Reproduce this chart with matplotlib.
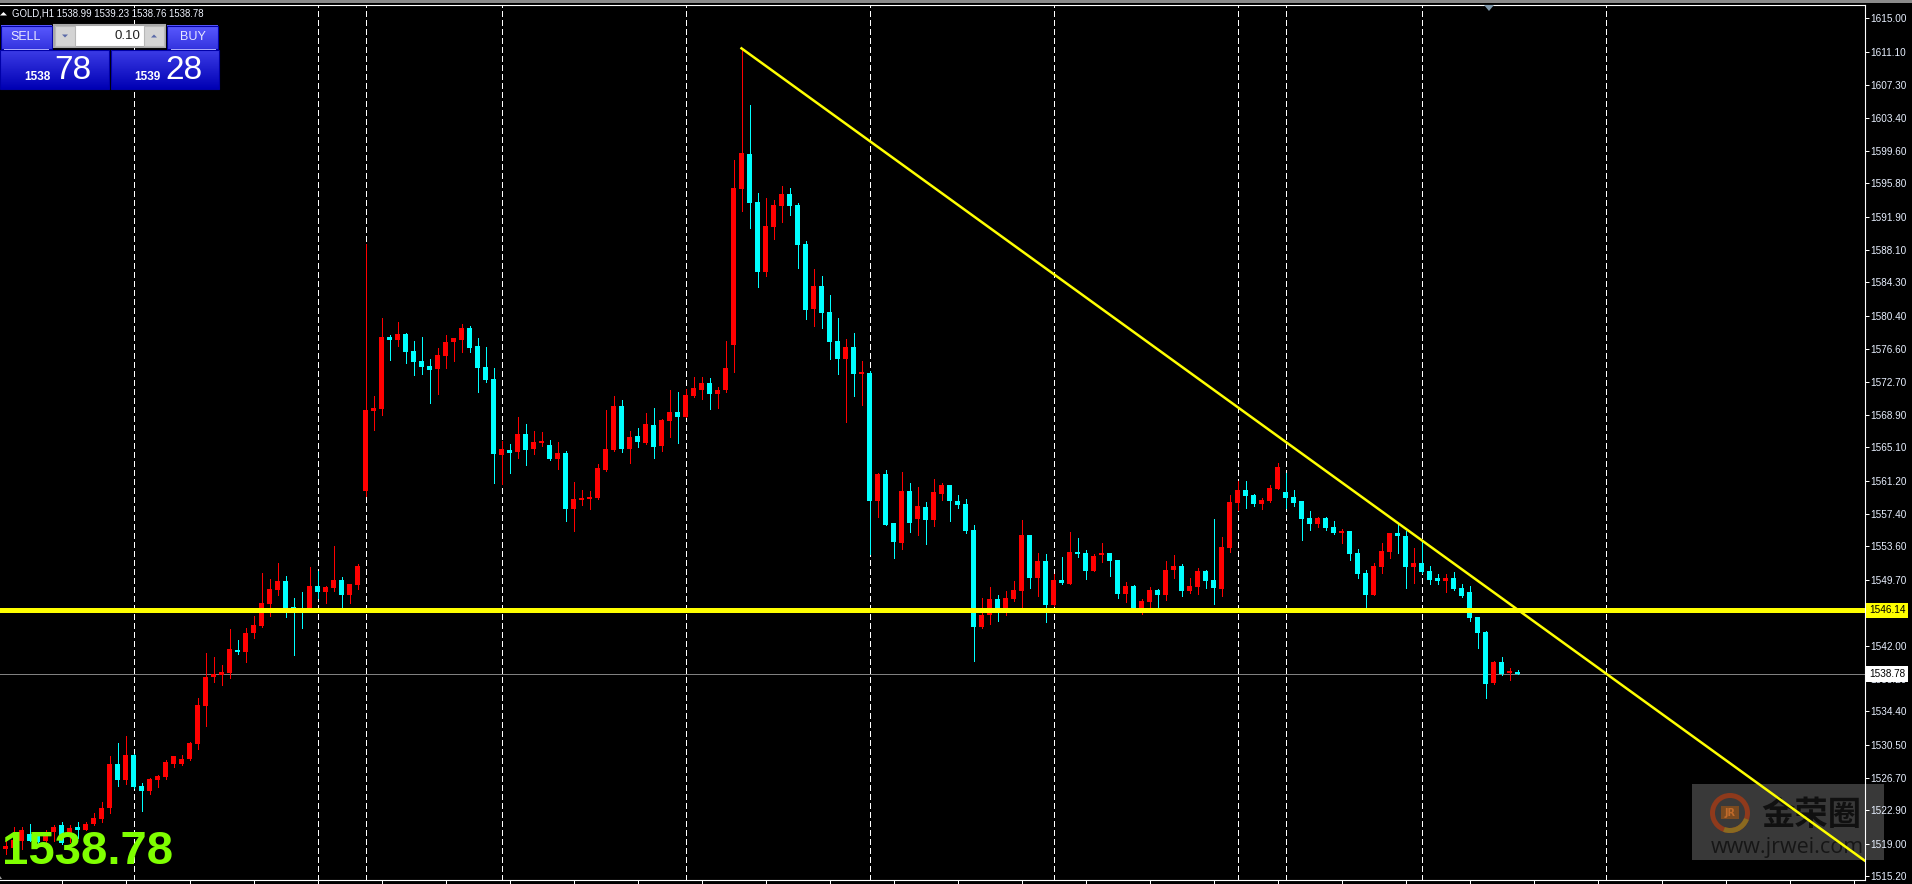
import numpy as np
import matplotlib
matplotlib.use('Agg')
import matplotlib.pyplot as plt
from matplotlib.patches import Rectangle, Polygon, Wedge
from matplotlib.colors import LinearSegmentedColormap

W, H = 1912, 884
UI_FONT = 'Liberation Sans'

opens = [
    1518.38,1518.53,1519.38,1520.16,1520.16,1519.38,1520.32,1521.13,1519.77,1520.90,
    1520.63,1521.25,1521.83,1523.11,1528.23,1526.37,1529.28,1525.67,1525.20,1526.37,
    1526.72,1528.34,1528.23,1528.81,1530.56,1534.98,1538.35,1538.59,1538.82,1541.49,
    1541.26,1543.47,1544.29,1546.85,1548.48,1549.52,1546.50,1546.38,1546.27,1548.94,
    1548.24,1548.71,1549.64,1547.89,1549.06,1560.00,1569.31,1569.54,1577.92,1577.57,
    1578.27,1576.29,1575.13,1574.54,1574.19,1575.71,1577.34,1577.57,1578.97,1576.87,
    1574.43,1573.03,1564.19,1564.77,1564.54,1566.63,1564.88,1565.58,1565.35,1563.72,
    1564.42,1557.90,1558.95,1559.07,1559.18,1562.44,1564.77,1569.89,1564.88,1566.40,
    1565.58,1567.68,1565.23,1568.14,1569.19,1568.61,1571.05,1571.75,1572.57,1571.29,
    1571.75,1576.98,1595.14,1599.21,1593.62,1585.48,1590.72,1593.16,1594.56,1593.28,
    1588.74,1581.17,1583.85,1580.82,1577.45,1575.35,1576.75,1573.61,1573.72,1558.84,
    1561.98,1556.28,1553.95,1560.00,1556.74,1558.14,1556.63,1559.65,1560.70,1558.84,
    1558.49,1555.46,1544.18,1545.57,1547.43,1546.39,1547.43,1548.36,1554.88,1549.88,
    1551.86,1546.74,1549.64,1549.18,1552.90,1552.79,1550.69,1552.55,1552.79,1551.97,
    1548.02,1548.95,1546.39,1547.08,1548.48,1547.90,1550.81,1551.27,1548.36,1548.83,
    1550.69,1549.64,1548.60,1553.37,1558.60,1560.12,1559.53,1558.48,1558.83,1560.23,
    1559.88,1559.30,1558.83,1556.85,1556.15,1556.85,1555.81,1555.11,1555.34,1552.78,
    1550.45,1547.89,1551.15,1552.90,1555.11,1554.76,1551.15,1551.62,1550.69,1549.87,
    1549.52,1549.87,1548.71,1548.24,1545.33,1543.59,1537.65,1540.10,1538.82,1538.99,
]
highs = [
    1519.38,1521.01,1521.01,1521.25,1520.16,1520.55,1521.13,1521.59,1521.13,1521.48,
    1521.48,1522.53,1523.81,1529.16,1530.67,1531.49,1529.39,1526.13,1526.60,1527.06,
    1528.69,1529.16,1529.28,1530.79,1535.91,1541.15,1540.68,1539.75,1543.94,1542.66,
    1544.05,1545.45,1550.45,1549.76,1551.62,1550.11,1547.55,1548.24,1551.15,1550.69,
    1548.94,1553.60,1549.99,1549.17,1551.50,1588.74,1571.05,1580.13,1578.15,1579.66,
    1578.38,1577.45,1577.92,1575.36,1576.64,1578.15,1577.80,1579.43,1579.20,1577.80,
    1576.75,1574.31,1565.82,1565.47,1568.61,1567.79,1566.98,1566.86,1565.93,1565.70,
    1564.65,1561.04,1560.11,1560.00,1563.14,1569.42,1571.05,1570.59,1566.98,1567.33,
    1569.07,1569.66,1568.38,1571.75,1571.52,1571.87,1573.26,1573.26,1573.15,1572.10,
    1577.45,1598.51,1611.51,1604.91,1594.67,1594.09,1593.86,1595.49,1595.25,1593.51,
    1589.09,1585.83,1585.01,1582.80,1580.13,1577.68,1578.38,1575.12,1574.00,1562.10,
    1562.45,1556.28,1562.21,1560.93,1560.47,1558.72,1561.40,1560.93,1560.70,1559.54,
    1559.07,1556.04,1547.55,1548.83,1547.90,1548.36,1549.53,1556.63,1554.88,1552.79,
    1552.67,1550.34,1552.32,1555.23,1554.53,1553.14,1552.67,1553.95,1552.79,1551.97,
    1549.41,1549.06,1547.43,1548.83,1548.60,1551.86,1552.55,1551.51,1549.88,1551.04,
    1550.81,1556.74,1554.65,1559.54,1561.17,1561.17,1559.65,1559.18,1560.69,1563.25,
    1562.09,1560.11,1558.83,1557.67,1556.97,1556.97,1556.50,1555.57,1555.34,1553.25,
    1550.80,1551.62,1553.94,1555.11,1556.27,1555.34,1553.36,1554.29,1551.27,1550.34,
    1550.34,1550.57,1549.17,1548.94,1545.33,1543.70,1540.21,1540.68,1539.40,1539.23,
]
lows = [
    1517.83,1517.44,1518.38,1519.38,1519.00,1519.19,1519.31,1519.00,1519.19,1519.62,
    1520.55,1521.13,1521.59,1522.64,1525.67,1525.90,1525.44,1522.76,1524.85,1525.55,
    1526.48,1527.88,1528.11,1528.69,1529.97,1532.65,1537.77,1537.42,1538.24,1541.03,
    1540.10,1542.89,1544.17,1545.45,1547.89,1545.33,1540.91,1544.05,1546.15,1547.55,
    1546.96,1548.36,1546.15,1546.96,1548.59,1559.42,1567.10,1568.84,1575.24,1576.87,
    1574.89,1573.50,1573.61,1570.24,1571.29,1574.31,1575.13,1576.17,1576.17,1571.52,
    1572.68,1560.93,1560.81,1562.09,1563.84,1563.02,1564.30,1565.23,1563.60,1562.56,
    1556.51,1555.34,1558.37,1557.90,1559.07,1562.32,1564.65,1564.54,1563.26,1565.12,
    1565.47,1563.84,1564.65,1566.28,1565.58,1568.61,1570.94,1570.70,1569.54,1569.66,
    1571.52,1573.84,1592.58,1590.60,1583.73,1585.01,1589.32,1591.30,1592.11,1585.94,
    1580.01,1579.19,1578.96,1575.35,1573.61,1568.02,1571.05,1570.00,1552.67,1556.98,
    1556.04,1552.20,1553.25,1555.23,1554.88,1553.83,1555.93,1558.95,1556.51,1558.02,
    1555.11,1540.22,1544.06,1544.52,1544.87,1545.57,1547.20,1546.50,1548.71,1547.78,
    1544.76,1546.62,1549.18,1549.18,1552.32,1549.76,1550.69,1551.74,1550.11,1547.55,
    1547.08,1546.27,1545.69,1546.50,1546.15,1547.32,1549.88,1547.78,1548.13,1548.02,
    1548.71,1546.85,1547.78,1552.90,1557.79,1558.02,1558.25,1557.90,1558.72,1560.23,
    1558.02,1558.25,1554.29,1555.46,1555.81,1555.46,1554.99,1553.94,1551.97,1549.87,
    1546.50,1547.89,1550.45,1552.20,1552.78,1548.71,1549.29,1550.45,1549.17,1549.17,
    1548.24,1548.47,1547.66,1544.87,1541.72,1535.91,1537.54,1538.58,1538.00,1538.76,
]
closes = [
    1518.69,1519.46,1520.63,1519.38,1519.19,1520.32,1521.01,1519.11,1520.86,1520.66,
    1521.36,1522.06,1523.22,1528.23,1526.37,1529.28,1525.55,1525.20,1526.48,1526.83,
    1528.46,1529.16,1528.81,1530.67,1535.09,1538.35,1538.74,1538.93,1541.61,1541.26,
    1543.47,1544.40,1546.96,1548.59,1549.52,1546.38,1546.27,1546.27,1548.94,1548.24,
    1548.83,1549.64,1547.89,1549.17,1551.27,1569.42,1569.66,1577.92,1577.57,1578.27,
    1576.17,1575.01,1574.43,1574.08,1575.82,1577.34,1577.80,1578.97,1576.64,1574.31,
    1572.91,1564.30,1564.88,1564.42,1566.63,1564.77,1565.70,1565.82,1563.72,1564.42,
    1557.90,1559.07,1559.18,1559.30,1562.67,1564.88,1569.89,1564.88,1566.28,1565.70,
    1567.79,1565.12,1568.26,1569.19,1568.61,1571.17,1571.98,1572.57,1571.29,1571.75,
    1574.31,1595.25,1599.33,1593.51,1585.48,1590.83,1593.28,1594.56,1593.16,1588.62,
    1581.06,1583.85,1580.71,1577.33,1575.35,1576.75,1573.61,1573.84,1558.84,1561.98,
    1556.04,1554.07,1560.00,1556.28,1558.26,1556.63,1559.89,1560.70,1558.84,1558.37,
    1555.35,1544.18,1545.57,1547.43,1546.39,1547.55,1548.48,1554.88,1549.88,1551.86,
    1546.74,1549.64,1549.30,1552.90,1552.67,1550.69,1552.44,1552.79,1551.86,1548.02,
    1548.95,1546.39,1547.20,1548.48,1547.90,1550.81,1551.27,1548.36,1548.95,1550.69,
    1549.53,1548.71,1553.48,1558.72,1560.12,1559.42,1558.48,1558.95,1560.34,1562.79,
    1559.18,1558.60,1556.74,1556.15,1556.85,1555.69,1555.11,1555.34,1552.66,1550.34,
    1547.89,1551.27,1553.01,1555.11,1554.76,1551.15,1551.62,1550.57,1549.64,1549.52,
    1549.87,1548.59,1547.78,1545.22,1543.47,1537.54,1540.10,1538.70,1539.05,1538.78,
]

price_ticks = [1615.00,1611.10,1607.30,1603.40,1599.60,1595.80,1591.90,1588.10,1584.30,
               1580.40,1576.60,1572.70,1568.90,1565.10,1561.20,1557.40,1553.60,1549.70,
               1545.90,1542.00,1538.20,1534.40,1530.50,1526.70,1522.90,1519.00,1515.20]
grid_bars = [16, 39, 45, 62, 85, 108, 131, 154, 160, 177, 200]
time_ticks = list(range(7, 232, 8))

support = 1546.14
last_price = 1538.78
trend_x = [92, 232.375]
trend_y = [1611.51, 1517.06]

def px_axes(zorder):
    # axes in image pixels, y going down
    a = fig.add_axes([0, 0, 1, 1], zorder=zorder)
    a.set_xlim(0, W)
    a.set_ylim(H, 0)
    a.axis('off')
    a.patch.set_alpha(0)
    return a

def gradient_box(a, x0, y0, x1, y1, top, bottom, edge='#0000a8'):
    cmap = LinearSegmentedColormap.from_list('g', [top, bottom])
    a.imshow(np.linspace(0, 1, 64).reshape(-1, 1), cmap=cmap, aspect='auto',
             extent=[x0, x1, y1, y0], interpolation='bilinear')
    a.add_patch(Rectangle((x0, y0), x1 - x0, y1 - y0, fill=False, ec=edge, lw=0.8))

fig = plt.figure(figsize=(W / 100, H / 100), dpi=100, facecolor='black')

# watermark goes under the chart
wm = px_axes(0)
wm.add_patch(Rectangle((1692, 784), 192, 76, fc='#393939', ec='none'))
wm.add_patch(Wedge((1730, 813), 20, 0, 360, width=5, fc='#8f3a1c', ec='none'))
wm.add_patch(Wedge((1730, 813), 20, 20, 110, width=5, fc='#8a6a20', ec='none'))
wm.add_patch(Rectangle((1721, 806), 18, 13, fc='#7a4a20', ec='none'))
wm.text(1730, 812.5, 'JR', color='#c06a2a', fontsize=7, fontweight='bold', ha='center', va='center')
wm.text(1811, 815, '金荣圈', color='#101010', fontsize=24, fontweight='bold', ha='center', va='center',
        family=['Noto Sans CJK SC', 'DejaVu Sans'])
wm.text(1787, 848, 'www.jrwei.com', color='#161616', fontsize=15.5, ha='center', va='center',
        family='Open Sans')

ax = fig.add_axes([0, (H - 879.5) / H, 1864.5 / W, (879.5 - 5) / H], zorder=1)
ax.set_facecolor('none')
ax.set_xlim(-0.6875, 232.375)
ax.set_ylim(1514.85, 1616.55)

x = np.arange(len(opens))
o = np.array(opens)
h = np.array(highs)
l = np.array(lows)
c = np.array(closes)
colors = np.where(c >= o, '#ff0000', '#00ffff')

ax.vlines(grid_bars, 1514.85, 1616.55, colors='white', lw=0.8,
          linestyles=(0, (5, 3)), zorder=1, antialiased=False)
ax.axhline(last_price, color='#808080', lw=0.72, zorder=1.5)

ax.vlines(x, l, h, colors=colors, lw=0.72, zorder=2, antialiased=False)
ax.bar(x, np.maximum(np.abs(c - o), 0.1), bottom=np.minimum(o, c), width=0.7,
       color=colors, linewidth=0, zorder=3, antialiased=False)

ax.axhline(support, color='#ffff00', lw=2.3, zorder=4, antialiased=False)
ax.plot(trend_x, trend_y, color='#ffff00', lw=1.8, zorder=4)

for side in ['top', 'right', 'bottom']:
    ax.spines[side].set_color('white')
    ax.spines[side].set_linewidth(0.8)
ax.spines['left'].set_visible(False)
ax.yaxis.tick_right()
ax.set_yticks(price_ticks)
ax.set_yticklabels(['%.2f' % p for p in price_ticks], family=UI_FONT, fontsize=7.2)
ax.tick_params(axis='y', colors='white', length=3, width=0.72, pad=1.5, labelcolor='#e8f0ff')
ax.set_xticks(time_ticks)
ax.set_xticklabels([])
ax.tick_params(axis='x', colors='white', length=3.5, width=0.72)

# price tags on the scale
ytrans = ax.get_yaxis_transform()
ax.text(1.0024, support, '%.2f' % support, transform=ytrans, color='black', fontsize=7.2, family=UI_FONT,
        va='center', ha='left', zorder=6, clip_on=False,
        bbox=dict(boxstyle='square,pad=0.28', fc='#ffff00', ec='none'))
ax.text(1.0024, last_price, '%.2f' % last_price, transform=ytrans, color='black', fontsize=7.2, family=UI_FONT,
        va='center', ha='left', zorder=6, clip_on=False,
        bbox=dict(boxstyle='square,pad=0.28', fc='white', ec='none'))

# terminal decorations on top
ui = px_axes(2)
ui.add_patch(Rectangle((0, 0), W, 3, fc='#8a8a8a', ec='none'))
ui.add_patch(Polygon([[1484, 5], [1494, 5], [1489, 11]], fc='#7f97aa', ec='none'))
ui.add_patch(Polygon([[0, 15.5], [3.5, 12], [7, 15.5]], fc='white', ec='none'))
ui.add_patch(Polygon([[0, 879], [0, 876], [2, 879]], fc='#999999', ec='none'))
ui.text(12, 13.5, 'GOLD,H1 1538.99 1539.23 1538.76 1538.78', color='#f0f4ff', fontsize=6.9,
        family=UI_FONT, va='center', ha='left')

gradient_box(ui, 1, 25.5, 52, 49, '#5a5aff', '#3434e0')
gradient_box(ui, 167, 25.5, 218, 49, '#5a5aff', '#3434e0')
gradient_box(ui, 0, 50, 109, 89, '#3c3ce6', '#0000b4')
gradient_box(ui, 111, 50, 219, 89, '#3c3ce6', '#0000b4')
ui.plot([4, 48], [48.5, 48.5], color='#b0b0ff', lw=0.7)
ui.plot([171, 215], [48.5, 48.5], color='#b0b0ff', lw=0.7)

ui.add_patch(Rectangle((54, 25), 111, 22, fc='white', ec='#a8a8a8', lw=1.5))
ui.add_patch(Rectangle((55, 26), 20, 20, fc='#d4d4d4', ec='#b8b8b8', lw=0.8))
ui.add_patch(Rectangle((144, 26), 20, 20, fc='#d4d4d4', ec='#b8b8b8', lw=0.8))
ui.add_patch(Polygon([[62, 34.5], [68, 34.5], [65, 37.5]], fc='#5a6aa8', ec='none'))
ui.add_patch(Polygon([[151, 37.5], [157, 37.5], [154, 34.5]], fc='#5a6aa8', ec='none'))
ui.text(140, 36, '0.10', color='#222222', fontsize=9.5, family=UI_FONT, ha='right', va='center')

ui.text(25.5, 36.5, 'SELL', color='#e8e8ff', fontsize=9, family=UI_FONT, ha='center', va='center')
ui.text(192.5, 36.5, 'BUY', color='#e8e8ff', fontsize=9, family=UI_FONT, ha='center', va='center')
ui.text(51, 77, '1538', color='white', fontsize=8.5, fontweight='bold', family=UI_FONT, ha='right', va='center')
ui.text(161, 77, '1539', color='white', fontsize=8.5, fontweight='bold', family=UI_FONT, ha='right', va='center')
ui.text(54, 70.5, '78', color='white', fontsize=24, family=UI_FONT, ha='left', va='center')
ui.text(165, 70.5, '28', color='white', fontsize=24, family=UI_FONT, ha='left', va='center')
ui.set_xlim(0, W)
ui.set_ylim(H, 0)

ui.text(2, 864, '%.2f' % last_price, color='#7fff00', fontsize=34, fontweight='bold', family=UI_FONT,
        ha='left', va='baseline')

fig.savefig('out.png', dpi=100, facecolor='black')
